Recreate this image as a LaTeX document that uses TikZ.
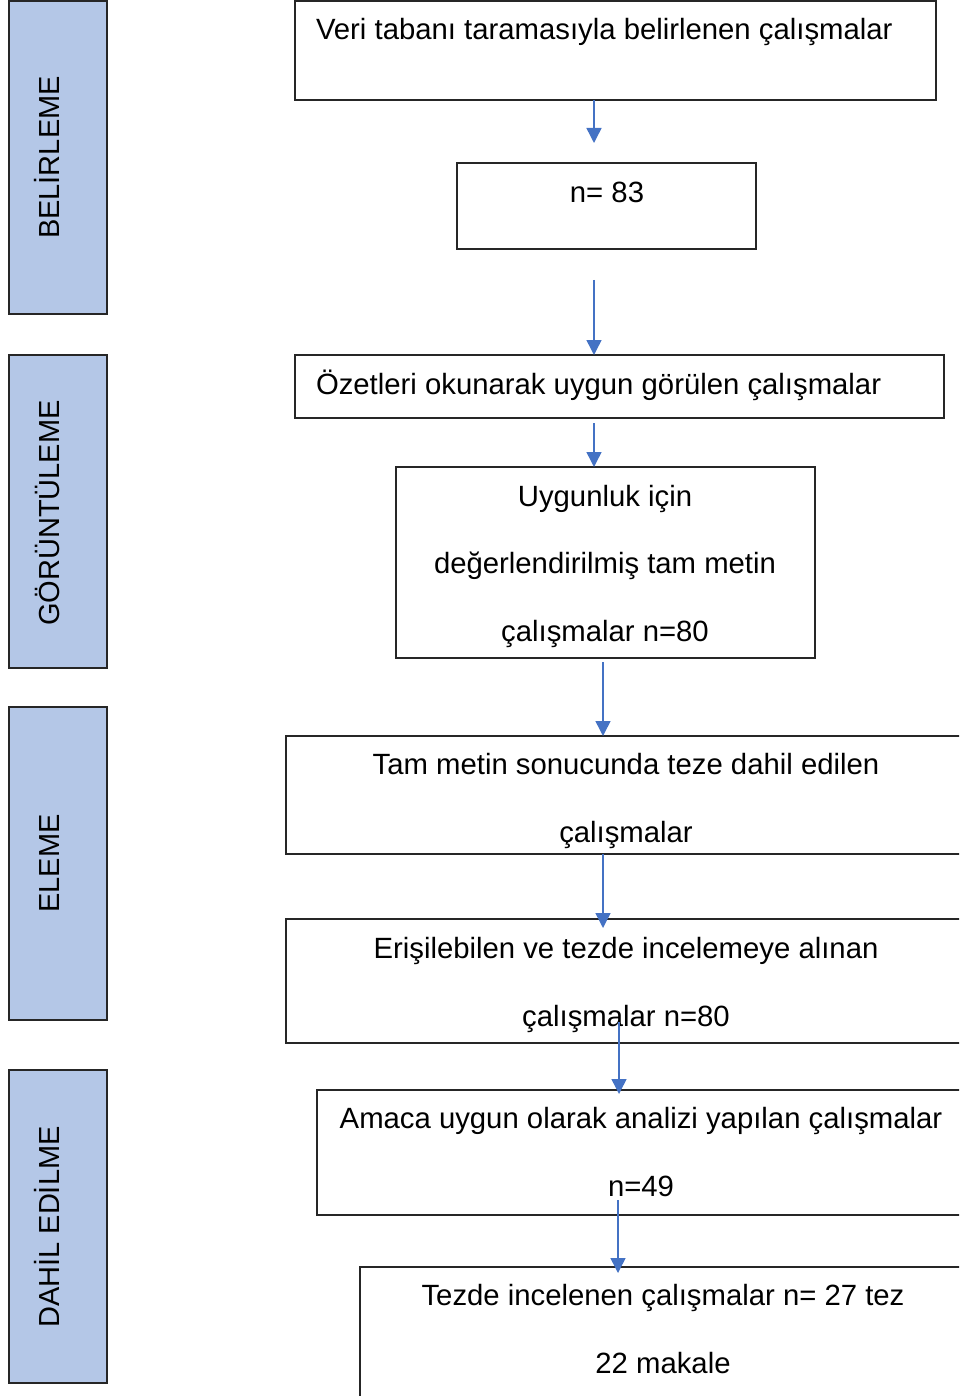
\documentclass[tikz,border=0pt]{standalone}
\usepackage{fontspec}
\setmainfont{Liberation Sans}
\usetikzlibrary{arrows.meta}
\definecolor{stagefill}{RGB}{180,199,231}
\definecolor{arrowblue}{RGB}{68,114,196}

\begin{document}
\begin{tikzpicture}[x=1pt,y=-1pt,
      every node/.style={inner sep=0pt,outer sep=0pt},
      stagebox/.style={draw=black!85,line width=1.2pt,fill=stagefill,anchor=north west,minimum width=98pt,minimum height=313pt},
      stagetext/.style={rotate=90,anchor=base,font=\fontsize{29}{35}\selectfont},
      flowbox/.style={draw=black!85,line width=1.2pt,anchor=north west},
      flowtext/.style={align=center,anchor=base,font=\fontsize{29.3}{67.5}\selectfont},
      flowarrow/.style={draw=arrowblue,line width=1.5pt,-{Triangle[width=15pt,length=15pt]}}]

      \useasboundingbox (0,0) rectangle (959,1396);
      \clip (0,0) rectangle (959,1396);

      % stages on the left
      \node[stagebox] (belirleme) at (9,1) {};
      \node[stagebox] (goruntuleme) at (9,355) {};
      \node[stagebox] (eleme) at (9,707) {};
      \node[stagebox] (dahil) at (9,1070) {};
      \node[stagetext] (belirlemeT) at (59,157.5) {BELİRLEME};
      \node[stagetext] (goruntulemeT) at (59,513) {GÖRÜNTÜLEME};
      \node[stagetext] (elemeT) at (59,863.5) {ELEME};
      \node[stagetext] (dahilT) at (59,1227) {DAHİL EDİLME};

      % flow boxes
      \node[flowbox,minimum width=641pt,minimum height=99pt] (veri) at (295,1) {};
      \node[flowbox,minimum width=299pt,minimum height=86pt] (ilk) at (457,163) {};
      \node[flowbox,minimum width=649pt,minimum height=63pt] (ozet) at (295,355) {};
      \node[flowbox,minimum width=419pt,minimum height=191pt] (uygun) at (396,467) {};
      \node[flowbox,minimum width=680pt,minimum height=118pt] (tam) at (286,736) {};
      \node[flowbox,minimum width=680pt,minimum height=124pt] (erisim) at (286,919) {};
      \node[flowbox,minimum width=649pt,minimum height=125pt] (amac) at (317,1090) {};
      \node[flowbox,minimum width=606pt,minimum height=160pt] (tez) at (360,1267) {};

      % texts, placed at the baseline of their last line
      \node[flowtext,anchor=base west] (veriT) at (316,40) {Veri tabanı taramasıyla belirlenen çalışmalar};
      \node[flowtext] (ilkT) at (607,203) {n= 83};
      \node[flowtext,anchor=base west] (ozetT) at (316,394) {Özetleri okunarak uygun görülen çalışmalar};
      \node[flowtext] (uygunT) at (605,641) {Uygunluk için\\değerlendirilmiş tam metin\\çalışmalar n=80};
      \node[flowtext] (tamT) at (626,842) {Tam metin sonucunda teze dahil edilen\\çalışmalar};
      \node[flowtext] (erisimT) at (626,1026) {Erişilebilen ve tezde incelemeye alınan\\çalışmalar n=80};
      \node[flowtext] (amacT) at (641,1196) {Amaca uygun olarak analizi yapılan çalışmalar\\n=49};
      \node[flowtext] (tezT) at (663,1373) {Tezde incelenen çalışmalar n= 27 tez\\22 makale};

      % arrows
      \coordinate (a1) at (594,143);
      \coordinate (b0) at (594,280);
      \coordinate (e1) at (603,928);
      \coordinate (f0) at (619,1022);
      \coordinate (f1) at (619,1094);
      \coordinate (g0) at (618,1200);
      \coordinate (g1) at (618,1273);
      \draw[flowarrow] (veri.south -| a1) -- (a1);
      \draw[flowarrow] (b0) -- (ozet.north -| b0);
      \draw[flowarrow] (ozet.south -| b0) ++(0,5) coordinate (c0) -- (uygun.north -| c0);
      \draw[flowarrow] (uygun.south -| e1) ++(0,4) coordinate (d0) -- (tam.north -| d0);
      \draw[flowarrow] (tam.south -| e1) -- (e1);
      \draw[flowarrow] (f0) -- (f1);
      \draw[flowarrow] (g0) -- (g1);
\end{tikzpicture}
\end{document}
